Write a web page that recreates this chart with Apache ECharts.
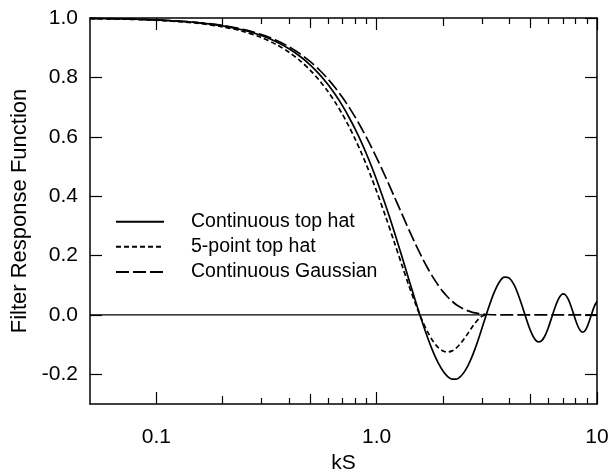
<!DOCTYPE html>
<html>
<head>
<meta charset="utf-8">
<script src="https://cdn.jsdelivr.net/npm/echarts@6/dist/echarts.min.js"></script>
<style>html,body{margin:0;padding:0;background:#fff}#c{width:614px;height:471px}</style>
</head>
<body>
<div id="c"></div>
<script>
// ---- data ----
const kS = [0.05,0.07,0.1,0.15,0.2,0.25,0.3,0.35,0.4,0.45,0.5,0.55,0.6,0.65,0.7,0.75,0.8,0.85,0.9,0.95,
  1.0,1.1,1.2,1.3,1.4,1.5,1.6,1.7,1.8,1.9,2.0,2.1,2.2,2.3,2.4,2.5,2.6,2.7,2.8,2.9,3.0,3.1,3.2,
  3.4,3.6,3.8,4.0,4.2,4.4,4.6,4.8,5.0,5.2,5.4,5.6,5.8,6.0,6.2,6.4,6.6,6.8,7.0,7.2,7.4,7.6,7.8,
  8.0,8.2,8.4,8.6,8.8,9.0,9.2,9.4,9.6,9.8,10.0];
const continuousTopHat = [0.99833,0.99673,0.99335,0.98507,0.97355,0.95885,0.94107,0.92031,0.89670,0.87036,
  0.84147,0.81019,0.77670,0.74120,0.70389,0.66500,0.62473,0.58333,0.54103,0.49805,
  0.45465,0.36750,0.28144,0.19827,0.11964,0.04704,-0.01824,-0.07516,-0.12292,-0.16101,-0.18920,-0.20752,
  -0.21627,-0.21602,-0.20753,-0.19178,-0.16990,-0.14310,-0.11273,-0.08010,-0.04657,-0.01340,0.01821,
  0.07266,0.11023,0.12736,0.12367,0.10174,0.06646,0.02423,-0.01816,-0.05440,-0.07960,-0.09090,-0.08750,
  -0.07093,-0.04471,-0.01335,0.01809,0.04487,0.06319,0.07076,0.06706,0.05316,0.03197,0.00688,
  -0.01799,-0.03891,-0.05268,-0.05796,-0.05412,-0.04172,-0.02345,-0.00266,0.01786,0.03477,0.04565];
const continuousGaussian = [0.99841,0.99689,0.99365,0.98578,0.97486,0.96099,0.94431,0.92498,0.90316,0.87905,
  0.85287,0.82484,0.79519,0.76417,0.73203,0.69901,0.66535,0.63130,0.59713,0.56299,
  0.52910,0.46289,0.39983,0.34101,0.28716,0.23876,0.19599,0.15884,0.12713,0.10044,0.07837,0.06036,
  0.04589,0.03447,0.02556,0.01871,0.01352,0.00965,0.00680,0.00473,0.00325,0.00220,0.00147,
  0.00064,0.00026,0.0001,0,0,0,0,0,0,0,0,0,0,0,0,0,0,0,0,0,0,0,0,0,0,0,0,0,0,0,0,0,0,0];
const kSFivePoint = [0.05,0.07,0.1,0.15,0.2,0.25,0.3,0.35,0.4,0.45,0.5,0.55,0.6,0.65,0.7,0.75,0.8,0.85,0.9,0.95,
  1.0,1.1,1.2,1.3,1.4,1.5,1.6,1.7,1.8,1.9,2.0,2.1,2.2,2.3,2.4,2.5,2.6,2.7,2.8,2.9,3.0,3.1,3.14];
const fivePointTopHat = [0.99813,0.99633,0.99252,0.98322,0.97030,0.95384,0.93400,0.91091,0.88470,0.85563,
  0.82387,0.78966,0.75325,0.71491,0.67491,0.63352,0.59105,0.54778,0.50401,0.46002,
  0.41611,0.32967,0.24683,0.16953,0.09943,0.03787,-0.01417,-0.05612,-0.08779,-0.10939,-0.12148,-0.12499,
  -0.12108,-0.11118,-0.09682,-0.07966,-0.06131,-0.04336,-0.02722,-0.01410,-0.00495,-0.00043,0];
const zeroLineX = [0.05, 3.14];
const zeroLineY = [0, 0];

const seriesNames = ['Continuous top hat', '5-point top hat', 'Continuous Gaussian'];
const xTickValues = [0.1, 1, 10];
const xTickLabels = ['0.1', '1.0', '10'];
const xMinorTicks2 = [0.2, 2];
const xMinorTicks5 = [0.5, 5];
const xMinorTicksOther = [0.3, 0.4, 0.6, 0.7, 0.8, 0.9, 3, 4, 6, 7, 8, 9];
const yTickValues = [-0.2, 0, 0.2, 0.4, 0.6, 0.8, 1.0];

// ---- chart ----
const FONT = "'Liberation Sans', Arial, Helvetica, sans-serif";
const BLACK = '#000';
const pairs = (xs, ys) => xs.map((x, i) => [x, ys[i]]);

function xAx(pos, ticks, len, showLine, extra) {
  return Object.assign({
    type: 'log', logBase: 10, min: 0.05, max: 10, position: pos,
    axisLine: { show: showLine, onZero: false, lineStyle: { color: BLACK, width: 1.5 } },
    axisTick: { show: true, inside: true, length: len, customValues: ticks, lineStyle: { color: BLACK, width: 1.2 } },
    axisLabel: { show: false },
    splitLine: { show: false }, minorTick: { show: false }, minorSplitLine: { show: false }
  }, extra || {});
}
function yAx(pos, extra) {
  return Object.assign({
    type: 'value', min: -0.3, max: 1.0, position: pos,
    axisLine: { show: true, onZero: false, lineStyle: { color: BLACK, width: 1.5 } },
    axisTick: { show: true, inside: true, length: 12, customValues: yTickValues, lineStyle: { color: BLACK, width: 1.2 } },
    axisLabel: { show: false },
    splitLine: { show: false }
  }, extra || {});
}

const chart = echarts.init(document.getElementById('c'), null, { renderer: 'canvas' });
chart.setOption({
  backgroundColor: '#fff',
  animation: false,
  textStyle: { fontFamily: FONT, color: BLACK },
  grid: { left: 90, right: 17, top: 18, bottom: 67, containLabel: false, outerBoundsMode: 'none' },
  legend: {
    orient: 'vertical', left: 115, top: 211.5, padding: 0,
    data: seriesNames,
    itemWidth: 48, itemHeight: 14, itemGap: 4.6,
    itemStyle: { opacity: 0, borderWidth: 0 },
    textStyle: { fontFamily: FONT, fontSize: 19.5, color: BLACK, lineHeight: 20.5, padding: [0, 0, 0, 22] },
    selectedMode: false
  },
  xAxis: [
    xAx('bottom', xTickValues, 12, true, {
      name: 'kS', nameLocation: 'middle', nameGap: 49,
      nameTextStyle: { fontFamily: FONT, fontSize: 21, color: BLACK },
      axisLabel: { show: true, customValues: xTickValues, margin: 23, fontFamily: FONT, fontSize: 21, color: BLACK,
        formatter: v => xTickLabels[xTickValues.indexOf(v)] !== undefined ? xTickLabels[xTickValues.indexOf(v)] : String(v) }
    }),
    xAx('bottom', xMinorTicks2, 8, false),
    xAx('bottom', xMinorTicks5, 10, false),
    xAx('bottom', xMinorTicksOther, 6, false),
    xAx('top', xTickValues, 12, true),
    xAx('top', xMinorTicks2, 8, false),
    xAx('top', xMinorTicks5, 10, false),
    xAx('top', xMinorTicksOther, 6, false)
  ],
  yAxis: [
    yAx('left', {
      name: 'Filter Response Function', nameLocation: 'middle', nameGap: 45, nameRotate: 90,
      nameTextStyle: { fontFamily: FONT, fontSize: 22, color: BLACK },
      axisLabel: { show: true, customValues: yTickValues, margin: 12, fontFamily: FONT, fontSize: 21, color: BLACK,
        formatter: v => v.toFixed(1) }
    }),
    yAx('right')
  ],
  series: [
    {
      name: 'zero', type: 'line', data: pairs(zeroLineX, zeroLineY), symbol: 'none', silent: true,
      lineStyle: { color: BLACK, width: 1.4 }, z: 1
    },
    {
      name: seriesNames[0], type: 'line', data: pairs(kS, continuousTopHat), symbol: 'none', smooth: 0.3,
      lineStyle: { color: BLACK, width: 1.7, type: 'solid' }, itemStyle: { color: BLACK }
    },
    {
      name: seriesNames[1], type: 'line', data: pairs(kSFivePoint, fivePointTopHat), symbol: 'none', smooth: 0.3,
      lineStyle: { color: BLACK, width: 1.7, type: [5, 3] }, itemStyle: { color: BLACK }
    },
    {
      name: seriesNames[2], type: 'line', data: pairs(kS, continuousGaussian), symbol: 'none', smooth: 0.3,
      lineStyle: { color: BLACK, width: 1.7, type: [13, 4] }, itemStyle: { color: BLACK }
    }
  ]
});
</script>
</body>
</html>
